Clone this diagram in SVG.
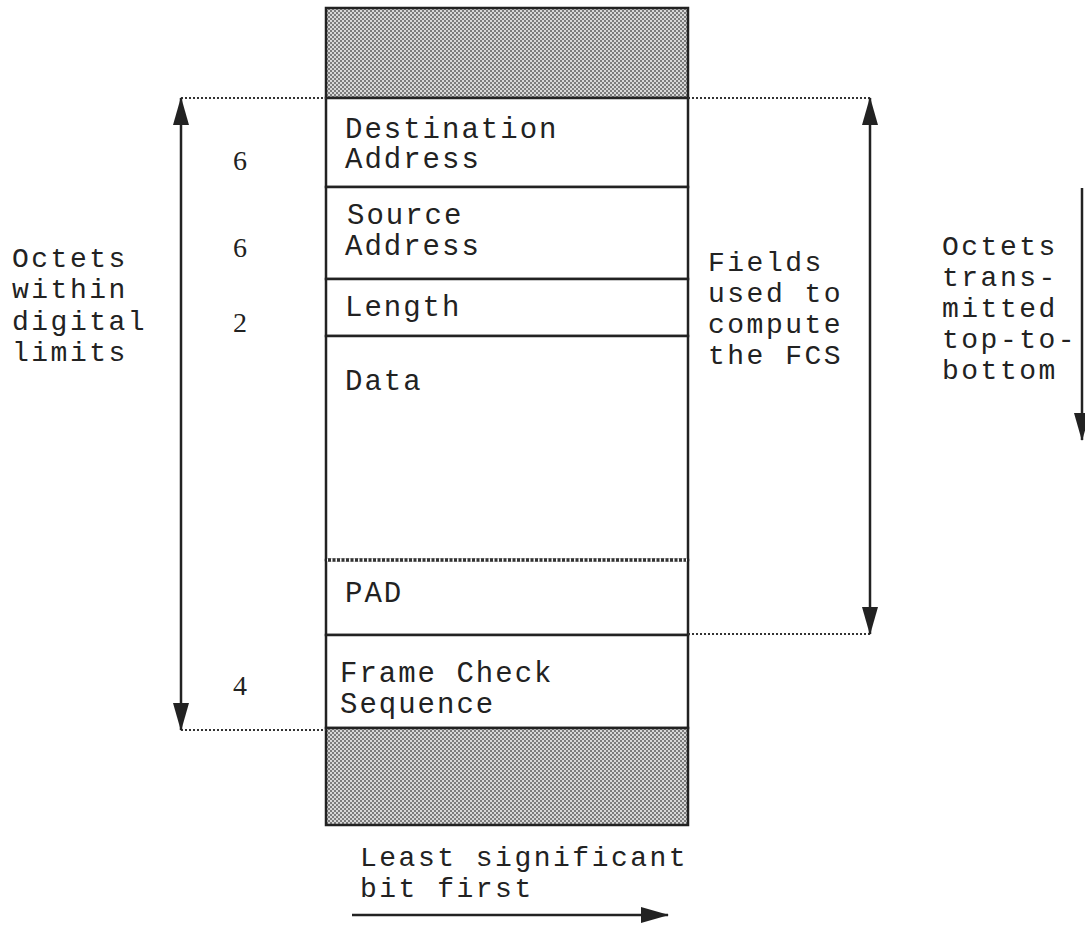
<svg xmlns="http://www.w3.org/2000/svg" width="1085" height="926" viewBox="0 0 1085 926">
<style>
.box{fill:#fff;stroke:#222;stroke-width:2.5}
.shade{fill:url(#dots);stroke:#222;stroke-width:2.5}
.t{font-family:"Liberation Mono","DejaVu Sans Mono",monospace;font-size:29px;letter-spacing:2px;fill:#222}
.lab{font-family:"Liberation Mono","DejaVu Sans Mono",monospace;font-size:28px;letter-spacing:2.5px;fill:#222}
.num{font-family:"Liberation Serif","DejaVu Serif",serif;font-size:28px;fill:#222}
.dot{stroke:#333;stroke-width:2;stroke-dasharray:2 2;fill:none}
.ln{stroke:#222;stroke-width:2.5;fill:none}
</style>
<defs>
<pattern id="dots" width="4" height="4" patternUnits="userSpaceOnUse">
<rect width="4" height="4" fill="#d8d8d8"/>
<rect width="2" height="2" fill="#7c7c7c"/>
<rect x="2" y="2" width="2" height="2" fill="#7c7c7c"/>
</pattern>
<marker id="ah" viewBox="0 0 28 16" refX="27" refY="8" markerWidth="28" markerHeight="16" markerUnits="userSpaceOnUse" orient="auto-start-reverse">
<path d="M0,0 L28,8 L0,16 Z" fill="#222"/>
</marker>
</defs>

<g id="frame-top"><rect class="shade" x="326" y="8" width="362" height="90"/></g>
<g id="dest"><rect class="box" x="326" y="98" width="362" height="89"/>
<text class="t" x="345" y="138">Destination</text><text class="t" x="345" y="168">Address</text></g>
<g id="src"><rect class="box" x="326" y="187" width="362" height="92"/>
<text class="t" x="347" y="224">Source</text><text class="t" x="345" y="255">Address</text></g>
<g id="len"><rect class="box" x="326" y="279" width="362" height="57"/>
<text class="t" x="345" y="316">Length</text></g>
<g id="data"><rect class="box" x="326" y="336" width="362" height="224"/>
<text class="t" x="345" y="390">Data</text></g>
<g id="pad"><rect class="box" x="326" y="560" width="362" height="75"/>
<line x1="327" y1="560" x2="687" y2="560" stroke="#fff" stroke-width="3"/>
<line x1="328" y1="560" x2="686" y2="560" stroke="#333" stroke-width="3.5" stroke-dasharray="3 1.5"/>
<text class="t" x="345" y="602">PAD</text></g>
<g id="fcs"><rect class="box" x="326" y="635" width="362" height="93"/>
<text class="t" x="340" y="682">Frame Check</text><text class="t" x="340" y="713">Sequence</text></g>
<g id="frame-bottom"><rect class="shade" x="326" y="728" width="362" height="97"/></g>

<g id="numbers">
<text class="num" x="233" y="170">6</text>
<text class="num" x="233" y="257">6</text>
<text class="num" x="233" y="332">2</text>
<text class="num" x="233" y="695">4</text>
</g>

<g id="label-left">
<text class="lab" x="12" y="267">Octets</text>
<text class="lab" x="12" y="298">within</text>
<text class="lab" x="12" y="330">digital</text>
<text class="lab" x="12" y="361">limits</text>
</g>
<g id="label-fields">
<text class="lab" x="708" y="271">Fields</text>
<text class="lab" x="708" y="302">used to</text>
<text class="lab" x="708" y="333">compute</text>
<text class="lab" x="708" y="364">the FCS</text>
</g>
<g id="label-right">
<text class="lab" x="942" y="255">Octets</text>
<text class="lab" x="942" y="286">trans-</text>
<text class="lab" x="942" y="317">mitted</text>
<text class="lab" x="942" y="348">top-to-</text>
<text class="lab" x="942" y="379">bottom</text>
</g>
<g id="label-bottom">
<text class="lab" x="360" y="866">Least significant</text>
<text class="lab" x="360" y="897">bit first</text>
</g>

<g id="connectors">
<line class="dot" x1="181" y1="98" x2="326" y2="98"/>
<line class="dot" x1="181" y1="730" x2="326" y2="730"/>
<line class="dot" x1="688" y1="98" x2="870" y2="98"/>
<line class="dot" x1="688" y1="634" x2="870" y2="634"/>
<line class="ln" x1="181" y1="98" x2="181" y2="730" marker-start="url(#ah)" marker-end="url(#ah)"/>
<line class="ln" x1="870" y1="98" x2="870" y2="634" marker-start="url(#ah)" marker-end="url(#ah)"/>
<line class="ln" x1="1082" y1="188" x2="1082" y2="440" marker-end="url(#ah)"/>
<line class="ln" x1="352" y1="915" x2="668" y2="915" marker-end="url(#ah)"/>
</g>
</svg>
